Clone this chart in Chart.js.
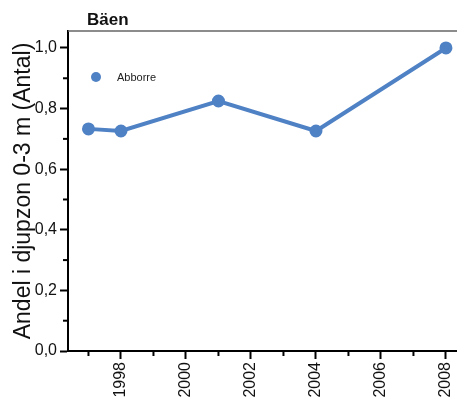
<!DOCTYPE html>
<html>
<head>
<meta charset="utf-8">
<script src="https://cdn.jsdelivr.net/npm/chart.js@4/dist/chart.umd.min.js"></script>
<style>
html,body{margin:0;padding:0;background:#fff;}
#wrap{width:457px;height:407px;}
</style>
</head>
<body>
<div id="wrap"><canvas id="c" width="457" height="407"></canvas></div>
<script>
const chartTitle = "Bäen";
const seriesName = "Abborre";
const years = [1997, 1998, 2001, 2004, 2008];
const values = [0.733, 0.726, 0.825, 0.726, 1.0];
const xTickYears = [1997,1998,1999,2000,2001,2002,2003,2004,2005,2006,2007,2008];
const xLabelYears = [1998, 2000, 2002, 2004, 2006, 2008];
const yTickValues = [0,0.1,0.2,0.3,0.4,0.5,0.6,0.7,0.8,0.9,1.0];
const yLabelValues = [0,0.2,0.4,0.6,0.8,1.0];
const yTitle = "Andel i djupzon 0-3 m (Antal)";

const lineColor = '#4F81C5';
const font = "'Liberation Sans', Arial, sans-serif";

function isLabelY(v){ return yLabelValues.some(l => Math.abs(l - v) < 1e-6); }

const extras = {
  id: 'extras',
  afterDraw(chart){
    const ctx = chart.ctx;
    const xs = chart.scales.x, ys = chart.scales.y;
    const ca = chart.chartArea;
    ctx.save();
    ctx.strokeStyle = '#000';
    ctx.lineWidth = 2;
    xTickYears.forEach(y => {
      if (xLabelYears.includes(y)) return;
      const px = xs.getPixelForValue(y);
      ctx.beginPath(); ctx.moveTo(px, ca.bottom); ctx.lineTo(px, ca.bottom + 5); ctx.stroke();
    });
    yTickValues.forEach(v => {
      if (isLabelY(v)) return;
      const py = ys.getPixelForValue(v);
      ctx.beginPath(); ctx.moveTo(ca.left, py); ctx.lineTo(ca.left - 5, py); ctx.stroke();
    });
    ctx.strokeStyle = '#666';
    ctx.lineWidth = 1.5;
    ctx.beginPath(); ctx.moveTo(ca.left, ca.top); ctx.lineTo(ca.right, ca.top); ctx.stroke();
    ctx.fillStyle = '#111';
    ctx.font = "bold 17px " + font;
    ctx.textBaseline = 'alphabetic';
    ctx.textAlign = 'left';
    ctx.fillText(chartTitle, 87, 25);
    ctx.fillStyle = lineColor;
    ctx.beginPath(); ctx.arc(96, 77, 5, 0, Math.PI*2); ctx.fill();
    ctx.fillStyle = '#222';
    ctx.font = "11px " + font;
    ctx.textBaseline = 'middle';
    ctx.fillText(seriesName, 117, 78);
    ctx.restore();
  }
};

new Chart(document.getElementById('c'), {
  type: 'line',
  data: {
    datasets: [{
      label: seriesName,
      data: years.map((y,i) => ({x: y, y: values[i]})),
      borderColor: lineColor,
      backgroundColor: lineColor,
      borderWidth: 4,
      pointRadius: 4.5,
      pointHoverRadius: 4.5,
      tension: 0,
      clip: false
    }]
  },
  options: {
    responsive: false,
    animation: false,
    devicePixelRatio: 1,
    layout: { autoPadding: false, padding: { top: 31, right: 0, left: 0, bottom: 0 } },
    plugins: { legend: { display: false }, title: { display: false }, tooltip: { enabled: false } },
    scales: {
      x: {
        type: 'linear',
        min: 1996.37,
        max: 2008.34,
        afterBuildTicks: s => { s.ticks = xTickYears.map(v => ({value: v})); },
        afterFit: s => { s.height = 56; s.paddingLeft = 0; s.paddingRight = 0; },
        border: { display: true, color: '#000', width: 2 },
        grid: {
          drawOnChartArea: false,
          tickLength: 8,
          tickWidth: 2,
          tickColor: c => (c.tick && xLabelYears.includes(c.tick.value)) ? '#000' : 'rgba(0,0,0,0)'
        },
        ticks: {
          autoSkip: false,
          minRotation: 90,
          maxRotation: 90,
          padding: 3,
          color: '#111',
          font: { family: font, size: 16 },
          callback: v => xLabelYears.includes(v) ? String(v) : ''
        }
      },
      y: {
        type: 'linear',
        min: 0,
        max: 1.056,
        afterBuildTicks: s => { s.ticks = yTickValues.map(v => ({value: v})); },
        afterFit: s => { s.width = 68; s.paddingTop = 0; s.paddingBottom = 0; },
        border: { display: true, color: '#000', width: 2 },
        grid: {
          drawOnChartArea: false,
          tickLength: 8,
          tickWidth: 2,
          tickColor: c => (c.tick && isLabelY(c.tick.value)) ? '#000' : 'rgba(0,0,0,0)'
        },
        ticks: {
          autoSkip: false,
          padding: 3,
          color: '#111',
          font: { family: font, size: 16 },
          callback: v => isLabelY(v) ? v.toFixed(1).replace('.', ',') : ''
        },
        title: {
          display: true,
          text: yTitle,
          color: '#111',
          font: { family: font, size: 23 },
          padding: { top: 10, bottom: 0 }
        }
      }
    }
  },
  plugins: [extras]
});
</script>
</body>
</html>
